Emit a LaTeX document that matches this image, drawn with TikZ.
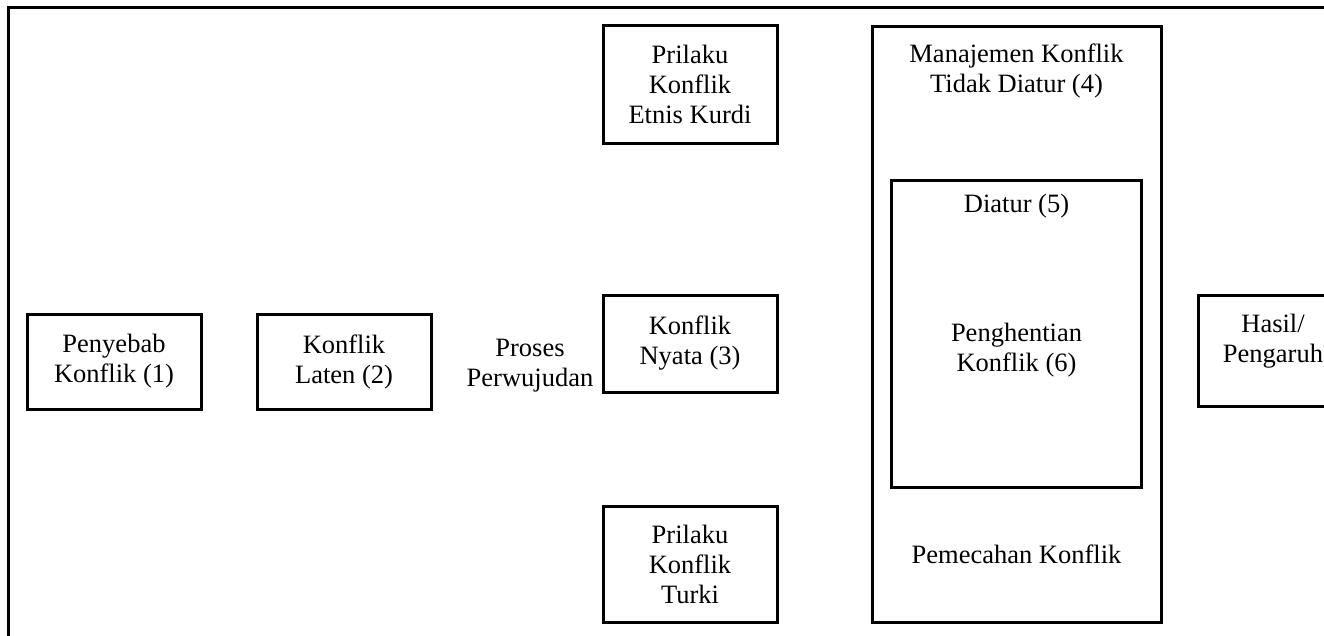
\documentclass[tikz,border=0pt]{standalone}
\usepackage{fontspec}
\setmainfont{Liberation Serif}
\begin{document}
\begin{tikzpicture}[x=1pt,y=-1pt]
  \tikzstyle{kotak}=[draw,line width=3pt,minimum width=174pt,inner sep=0pt,align=center,font=\fontsize{26.5}{30}\selectfont]
  \tikzstyle{teks}=[inner sep=0pt,align=center,font=\fontsize{26.5}{30}\selectfont]

  % Batas gambar
  \useasboundingbox (0,0) rectangle (1324,635);
  \clip (0,0) rectangle (1324,635);

  % Bingkai (atas dan kiri)
  \draw[line width=3pt] (1330,7.5) -- (8.5,7.5) -- (8.5,640);

  % Penyebab dan konflik laten
  \node[kotak,minimum height=95pt] (penyebab) at (114,361.5) {Penyebab\\Konflik (1)};
  \node[kotak,minimum height=95pt] (laten) at (344,361.5) {Konflik\\Laten (2)};

  % Proses perwujudan
  \node[teks] (proses) at (530,366) {Proses\\Perwujudan};

  % Konflik nyata dan prilaku
  \node[kotak,minimum height=118pt] (kurdi) at (690,84) {Prilaku\\Konflik\\Etnis Kurdi};
  \node[kotak,minimum height=97pt] (nyata) at (690,343.5) {Konflik\\Nyata (3)};
  \node[kotak,minimum height=116pt] (turki) at (690,564) {Prilaku\\Konflik\\Turki};

  % Manajemen konflik
  \node[kotak,minimum width=289pt,minimum height=596pt] (manajemen) at (1016.5,324.5) {};
  \node[teks] (tidakdiatur) at (1016.5,71) {Manajemen Konflik\\Tidak Diatur (4)};
  \node[kotak,minimum width=250pt,minimum height=307pt] (diatur) at (1016.5,334) {};
  \node[teks] (diaturteks) at (1016.5,206) {Diatur (5)};
  \node[teks] (penghentian) at (1016.5,350) {Penghentian\\Konflik (6)};
  \node[teks] (pemecahan) at (1016.5,554) {Pemecahan Konflik};

  % Hasil
  \node[kotak,minimum height=111pt] (hasil) at (1285,350.5) {};
  \node[teks] (hasilteks) at (1273,341) {Hasil/\\Pengaruh};

\end{tikzpicture}
\end{document}
